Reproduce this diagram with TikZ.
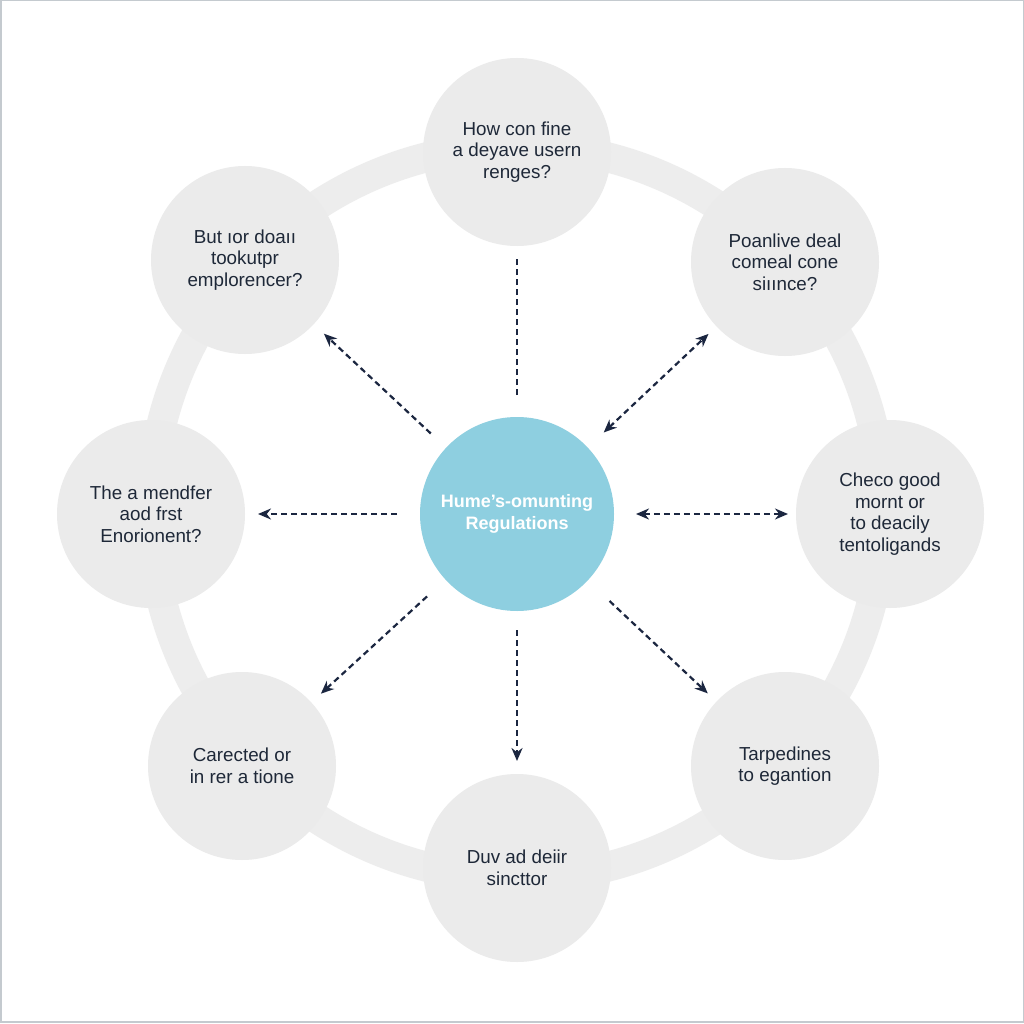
\documentclass[tikz,border=0pt]{standalone}
\usepackage{fontspec}
\setmainfont{Liberation Sans}
\usetikzlibrary{arrows.meta}
\definecolor{ringgray}{HTML}{EDEDED}
\definecolor{bubblegray}{HTML}{EBEBEB}
\definecolor{hubblue}{HTML}{8ECFE0}
\definecolor{ink}{HTML}{1E2838}
\definecolor{arrowc}{HTML}{1B2640}
\definecolor{framegray}{HTML}{C4CACF}
\begin{document}
\begin{tikzpicture}[x=1pt,y=-1pt,
  bubble/.style={circle,fill=bubblegray,minimum size=188pt,inner sep=0pt,outer sep=0pt,align=center,text=ink,font=\fontsize{18.8}{21.5}\selectfont},
  hubnode/.style={circle,fill=hubblue,minimum size=194pt,inner sep=0pt,outer sep=0pt,align=center,text=white,font=\bfseries\fontsize{18}{22}\selectfont},
  conn/.style={draw=arrowc,line width=2.2pt,dash pattern=on 6pt off 4pt},
  onehead/.style={-{Stealth[length=13pt,width=11pt]}},
  twoheads/.style={{Stealth[length=13pt,width=11pt]}-{Stealth[length=13pt,width=11pt]}}
]
\useasboundingbox (0,0) rectangle (1024,1024);
\fill[white] (0,0) rectangle (1024,1024);
\draw[framegray,line width=1.5pt] (0.75,0.75) rectangle (1023.25,1022);

% ring
\draw[ringgray,line width=30pt] (517,512) circle[radius=366];

% outer bubbles
\node[bubble] (t)  at (517,152) {How con fine\\a deyave usern\\renges?};
\node[bubble] (tl) at (245,260) {But ıor doaıı\\tookutpr\\emplorencer?};
\node[bubble] (tr) at (785,262) {Poanlive deal\\comeal cone\\siıınce?};
\node[bubble] (l)  at (151,514) {The a mendfer\\aod frst\\Enorionent?};
\node[bubble] (r)  at (890,514) {Checo good\\mornt or\\to deacily\\tentoligands};
\node[bubble] (bl) at (242,766) {Carected or\\in rer a tione};
\node[bubble] (br) at (785,766) {Tarpedines\\to egantion};
\node[bubble] (b)  at (517,868) {Duv ad deiir\\sincttor};

% hub
\node[hubnode] (c) at (517,514) {Hume's-omunting\\Regulations};

% connectors
\draw[conn,shorten <=22pt,shorten >=13pt] (c) -- (t);
\draw[conn,onehead,shorten <=21pt,shorten >=14pt] (c) -- (tl);
\draw[conn,twoheads,shorten <=22pt,shorten >=11pt] (c) -- (tr);
\draw[conn,onehead,shorten <=23pt,shorten >=13pt] (c) -- (l);
\draw[conn,twoheads,shorten <=22pt,shorten >=8pt] (c) -- (r);
\draw[conn,onehead,shorten <=25pt,shorten >=13pt] (c) -- (bl);
\draw[conn,onehead,shorten <=19pt,shorten >=13pt] (c) -- (b);
\draw[conn,onehead,shorten <=30pt,shorten >=12pt] (c) -- (br);
\end{tikzpicture}
\end{document}
